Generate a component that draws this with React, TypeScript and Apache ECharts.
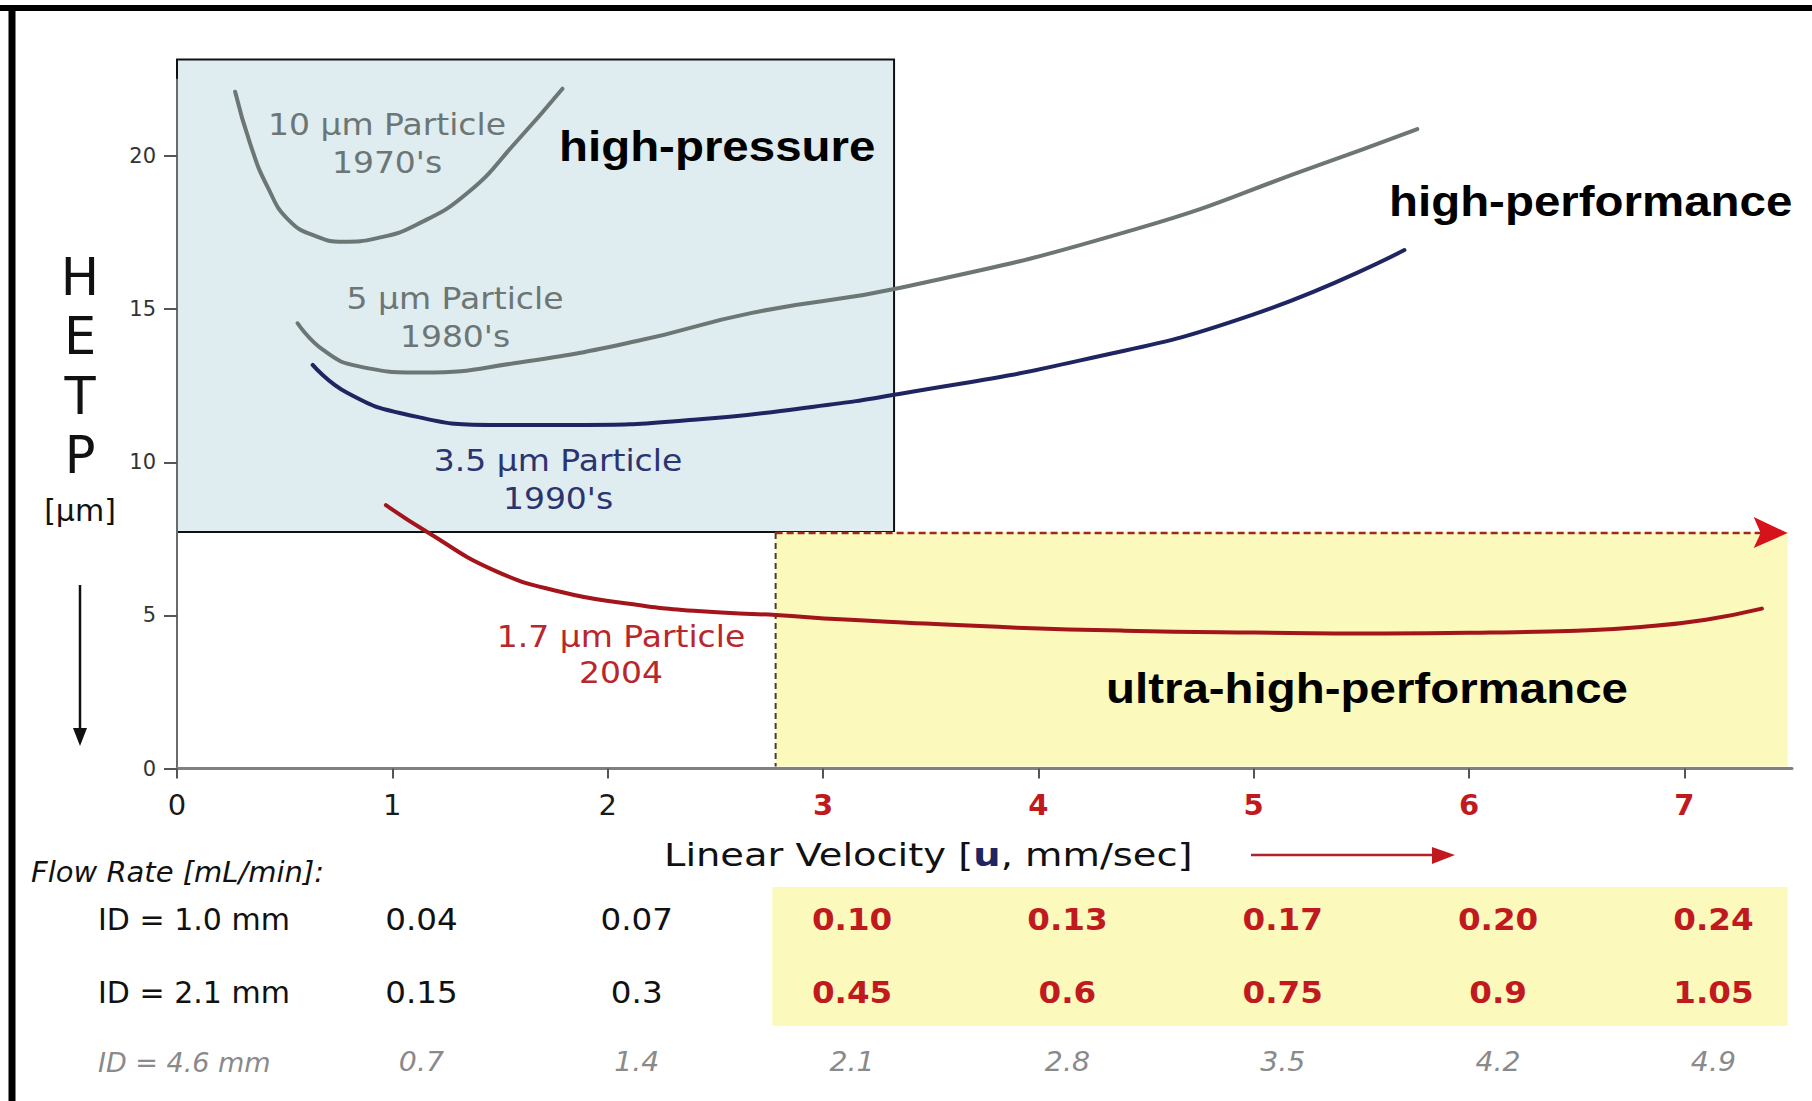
import React, { useEffect, useRef } from "react";
import * as echarts from "echarts";

// ---- axis ticks ----
const xTicks = [0, 1, 2, 3, 4, 5, 6, 7];
const yTicks = [0, 5, 10, 15, 20];

// ---- curves: linear velocity u [mm/s] vs HETP [µm] ----
const u10 = [0.27, 0.34, 0.42, 0.52, 0.65, 0.77, 0.93, 1.11, 1.35, 1.58, 1.79];
const h10 = [22.1, 20.4, 19.0, 17.9, 17.37, 17.2, 17.32, 17.75, 18.8, 20.5, 22.2];

const u5 = [0.56, 0.68, 0.84, 1.14, 1.59, 2.13, 2.67, 3.36, 4.46, 5.27, 5.76];
const h5 = [14.54, 13.66, 13.14, 12.93, 13.26, 13.95, 14.88, 15.7, 17.63, 19.62, 20.88];

const u35 = [0.63, 0.79, 1.06, 1.46, 1.86, 2.4, 2.94, 3.36, 4.19, 5.0, 5.7];
const h35 = [13.18, 12.27, 11.57, 11.22, 11.22, 11.39, 11.8, 12.24, 13.32, 14.83, 16.93];

const u17 = [0.97, 1.16, 1.47, 1.78, 2.09, 2.4, 2.78, 3.08, 3.39, 3.9, 4.4, 5.0, 5.6, 6.1, 6.5, 6.8, 7.1, 7.36];
const h17 = [8.6, 7.73, 6.48, 5.77, 5.39, 5.15, 5.01, 4.87, 4.76, 4.6, 4.5, 4.44, 4.41, 4.44, 4.5, 4.62, 4.86, 5.22];

// ---- flow-rate table ----
const rowLabels = ["ID = 1.0 mm", "ID = 2.1 mm", "ID = 4.6 mm"];
const flowID10 = ["0.04", "0.07", "0.10", "0.13", "0.17", "0.20", "0.24"];
const flowID21 = ["0.15", "0.3", "0.45", "0.6", "0.75", "0.9", "1.05"];
const flowID46 = ["0.7", "1.4", "2.1", "2.8", "3.5", "4.2", "4.9"];
const tableColumnsU = [1, 2, 3, 4, 5, 6, 7];

const FONT = "'DejaVu Sans', sans-serif";
const BOLD = "'Liberation Sans', Arial, sans-serif";

const GRAY = "#6c7674";
const NAVY = "#1e2561";
const DRED = "#a3141b";
const RED = "#c01a20";

const zip = (a: number[], b: number[]) => a.map((v, i) => [v, b[i]]);

export default function App() {
  const ref = useRef<HTMLDivElement>(null);

  useEffect(() => {
    if (!ref.current) return;
    const chart = echarts.init(ref.current, null, { renderer: "svg" });

    const lineSeries = (name: string, u: number[], h: number[], color: string) => ({
      name,
      type: "line",
      data: zip(u, h),
      smooth: 0.5,
      showSymbol: false,
      symbol: "none",
      clip: false,
      z: 5,
      lineStyle: { color, width: 4, cap: "round", join: "round" },
    });

    chart.setOption({
      animation: false,
      backgroundColor: "#ffffff",
      grid: { left: 177, right: 20, top: 79.5, bottom: 332.5, containLabel: false, outerBoundsMode: "none" },
      xAxis: {
        type: "value",
        min: 0,
        max: 7.5,
        interval: 1,
        splitLine: { show: false },
        axisLine: { lineStyle: { color: "#808080", width: 3 } },
        axisTick: { show: true, length: 10, customValues: xTicks, lineStyle: { color: "#555", width: 2 } },
        axisLabel: {
          customValues: xTicks,
          margin: 22,
          fontSize: 29,
          fontFamily: FONT,
          color: "#1a1a1a",
          formatter: (v: number) => (v >= 3 ? `{r|${v}}` : `${v}`),
          rich: { r: { color: RED, fontWeight: "bold", fontSize: 29, fontFamily: FONT } },
        },
      },
      yAxis: {
        type: "value",
        min: 0,
        max: 22.5,
        interval: 5,
        splitLine: { show: false },
        axisLine: { show: true, lineStyle: { color: "#6a6a6a", width: 2 } },
        axisTick: { show: true, length: 13, customValues: yTicks, lineStyle: { color: "#555", width: 2 } },
        axisLabel: { customValues: yTicks, margin: 21, fontSize: 21, fontFamily: FONT, color: "#333" },
      },
      series: [
        lineSeries("10 µm", u10, h10, GRAY),
        lineSeries("5 µm", u5, h5, GRAY),
        lineSeries("3.5 µm", u35, h35, NAVY),
        lineSeries("1.7 µm", u17, h17, DRED),
      ],
    });

    const px = (u: number, h: number) => chart.convertToPixel({ gridIndex: 0 }, [u, h]) as number[];

    const boxTL = px(0, 23.15);
    const boxBR = px(3.33, 7.72);
    const yelTL = px(2.78, 7.72);
    const yelBR = px(7.48, 0);
    const tableL = px(2.765, 0)[0];

    const txt = (
      text: string,
      x: number,
      y: number,
      fontSize: number,
      fill: string,
      opts: any = {}
    ) => ({
      type: "text",
      x,
      y,
      z: 20,
      scaleX: opts.scaleX ?? 1,
      style: {
        text,
        fontSize,
        fontFamily: opts.fontFamily ?? FONT,
        fontWeight: opts.fontWeight ?? "normal",
        fontStyle: opts.fontStyle ?? "normal",
        fill,
        align: opts.align ?? "center",
        verticalAlign: "middle",
        rich: opts.rich,
      },
    });

    const graphics: any[] = [];
    // shaded regions
    graphics.push({
      type: "rect",
      z: 0,
      shape: { x: boxTL[0], y: boxTL[1], width: boxBR[0] - boxTL[0], height: boxBR[1] - boxTL[1] },
      style: { fill: "#dfecf0", stroke: "#111", lineWidth: 2 },
    });
    graphics.push({
      type: "rect",
      z: 0,
      shape: { x: yelTL[0], y: yelTL[1], width: yelBR[0] - yelTL[0], height: yelBR[1] - yelTL[1] - 2 },
      style: { fill: "#fbf9bb" },
    });
    graphics.push({
      type: "rect",
      z: 0,
      shape: { x: tableL, y: 887, width: yelBR[0] - tableL, height: 139 },
      style: { fill: "#fbf9bb" },
    });
    // dashed borders of ultra-high-performance region
    graphics.push({
      type: "line",
      z: 3,
      shape: { x1: yelTL[0], y1: yelTL[1] + 1, x2: yelTL[0], y2: yelBR[1] - 2 },
      style: { stroke: "#4a3b2e", lineWidth: 2, lineDash: [6, 4] },
    });
    graphics.push({
      type: "line",
      z: 3,
      shape: { x1: yelTL[0], y1: yelTL[1] + 1, x2: yelBR[0] - 25, y2: yelTL[1] + 1 },
      style: { stroke: "#9a2a22", lineWidth: 2.5, lineDash: [7, 4] },
    });
    graphics.push({
      type: "polygon",
      z: 4,
      shape: {
        points: [
          [yelBR[0] - 34, yelTL[1] - 15],
          [yelBR[0], yelTL[1] + 1],
          [yelBR[0] - 34, yelTL[1] + 16],
          [yelBR[0] - 27, yelTL[1] + 1],
        ],
      },
      style: { fill: "#d6121a" },
    });

    // outer frame (top + left)
    graphics.push({ type: "line", z: 30, shape: { x1: 0, y1: 8, x2: 1812, y2: 8 }, style: { stroke: "#000", lineWidth: 6 } });
    graphics.push({ type: "line", z: 30, shape: { x1: 12, y1: 5, x2: 12, y2: 1101 }, style: { stroke: "#000", lineWidth: 7 } });

    // curve labels
    const lab = { scaleX: 1.1 };
    graphics.push(txt("10 µm Particle", 387, 125, 30, GRAY, lab));
    graphics.push(txt("1970's", 387, 163, 30, GRAY, lab));
    graphics.push(txt("5 µm Particle", 455, 299, 30, GRAY, lab));
    graphics.push(txt("1980's", 455, 337, 30, GRAY, lab));
    graphics.push(txt("3.5 µm Particle", 558, 461, 30, "#2c3470", lab));
    graphics.push(txt("1990's", 558, 499, 30, "#2c3470", lab));
    graphics.push(txt("1.7 µm Particle", 621, 637, 30, "#b9262c", lab));
    graphics.push(txt("2004", 621, 673, 30, "#b9262c", lab));

    // region labels
    const bold = { fontFamily: BOLD, fontWeight: "bold", align: "left", scaleX: 1.13 };
    graphics.push(txt("high-pressure", 559, 146, 42, "#000", bold));
    graphics.push(txt("high-performance", 1389, 201, 42, "#000", bold));
    graphics.push(txt("ultra-high-performance", 1106, 688, 42, "#000", bold));

    // y axis title
    ["H", "E", "T", "P"].forEach((c, i) => graphics.push(txt(c, 80, 277 + i * 59.5, 51, "#111")));
    graphics.push(txt("[µm]", 80, 510, 30, "#111"));
    graphics.push({ type: "line", z: 20, shape: { x1: 80, y1: 585, x2: 80, y2: 732 }, style: { stroke: "#111", lineWidth: 2.5 } });
    graphics.push({
      type: "polygon",
      z: 20,
      shape: { points: [[73, 728], [87, 728], [80, 746]] },
      style: { fill: "#111" },
    });

    // x axis title
    graphics.push(
      txt("Linear Velocity [{u|u}, mm/sec]", 664, 855, 32, "#111", {
        align: "left",
        scaleX: 1.2,
        rich: { u: { fontSize: 32, fontFamily: FONT, fontWeight: "bold", fill: NAVY, color: NAVY } },
      })
    );
    graphics.push({ type: "line", z: 20, shape: { x1: 1251, y1: 855, x2: 1440, y2: 855 }, style: { stroke: "#b3222a", lineWidth: 2.5 } });
    graphics.push({
      type: "polygon",
      z: 20,
      shape: { points: [[1432, 847], [1455, 855], [1432, 864]] },
      style: { fill: "#c01a20" },
    });

    // flow-rate table
    graphics.push(txt("Flow Rate [mL/min]:", 31, 872, 29, "#111", { align: "left", fontStyle: "italic" }));
    const rowY = [919, 992, 1062];
    const rows = [flowID10, flowID21, flowID46];
    rows.forEach((vals, r) => {
      const italic = r === 2;
      graphics.push(
        txt(rowLabels[r], 98, rowY[r], italic ? 27 : 30, italic ? "#8a8a8a" : "#111", {
          align: "left",
          fontStyle: italic ? "italic" : "normal",
        })
      );
      vals.forEach((val, c) => {
        const x = px(tableColumnsU[c] + 0.135, 0)[0];
        const hot = !italic && tableColumnsU[c] >= 3;
        graphics.push(
          txt(val, x, rowY[r], italic ? 27 : 31, italic ? "#8a8a8a" : hot ? RED : "#111", {
            fontStyle: italic ? "italic" : "normal",
            fontWeight: hot ? "bold" : "normal",
            scaleX: 1.05,
          })
        );
      });
    });

    chart.setOption({ graphic: { elements: graphics } });

    return () => chart.dispose();
  }, []);

  return (
    <div
      ref={ref}
      style={{ position: "fixed", left: 0, top: 0, width: 1812, height: 1101, background: "#fff" }}
    />
  );
}
